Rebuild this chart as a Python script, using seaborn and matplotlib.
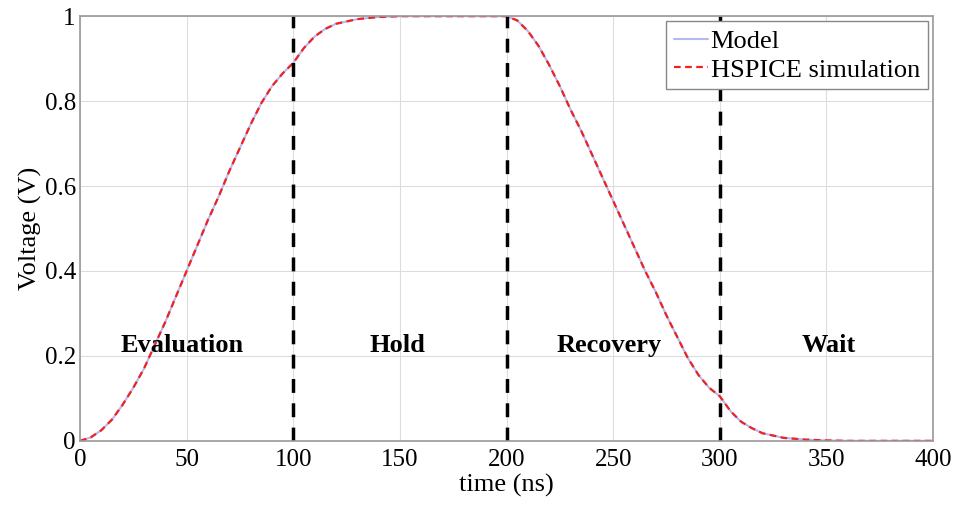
import pandas as pd
import seaborn as sns
import matplotlib.pyplot as plt

# time points (ns) and voltage (V)
time_ns = [0, 5, 10, 15, 20, 25, 30, 35, 40, 45, 50, 55, 60, 65, 70, 75, 80, 85, 90, 95,
           100, 105, 110, 115, 120, 130, 140, 150, 175, 200,
           205, 210, 215, 220, 225, 230, 235, 240, 245, 250, 255, 260, 265, 270, 275,
           280, 285, 290, 295, 300, 305, 310, 315, 320, 330, 340, 350, 360, 400]
model_v = [0, 0.008, 0.025, 0.05, 0.085, 0.125, 0.17, 0.225, 0.28, 0.34, 0.4, 0.46, 0.52,
           0.575, 0.635, 0.69, 0.745, 0.795, 0.835, 0.865,
           0.89, 0.925, 0.952, 0.97, 0.982, 0.993, 0.998, 1.0, 1.0, 1.0,
           0.99, 0.965, 0.93, 0.885, 0.835, 0.78, 0.73, 0.675, 0.62, 0.565, 0.51, 0.455,
           0.4, 0.35, 0.295, 0.245, 0.195, 0.155, 0.125, 0.105, 0.07, 0.045, 0.03, 0.018,
           0.007, 0.003, 0.001, 0.0, 0.0]
hspice_v = list(model_v)

phase_bounds = [100, 200, 300]
phase_names = ["Evaluation", "Hold", "Recovery", "Wait"]
phase_x = [48, 149, 248, 351]
phase_y = 0.225

df = pd.DataFrame({"time": time_ns, "Model": model_v, "HSPICE simulation": hspice_v})

sns.set_style("whitegrid")
plt.rcParams['font.family'] = ['Liberation Serif', 'DejaVu Serif']
# plain black text like the original figure
plt.rcParams['text.color'] = 'black'
plt.rcParams['axes.labelcolor'] = 'black'
plt.rcParams['xtick.labelcolor'] = 'black'
plt.rcParams['ytick.labelcolor'] = 'black'

fig, ax = plt.subplots(figsize=(9.6, 5.05), dpi=100)
fig.subplots_adjust(left=0.0833, right=0.972, top=0.968, bottom=0.127)

sns.lineplot(data=df, x="time", y="Model", ax=ax, color="#b8b8f0", lw=1.5, label="Model")
sns.lineplot(data=df, x="time", y="HSPICE simulation", ax=ax, color="#ee2222", lw=1.6,
             linestyle=(0, (3, 2)), label="HSPICE simulation")

for b in phase_bounds:
    ax.axvline(b, color="black", lw=2.5, linestyle=(0, (4, 3)))

for name, x in zip(phase_names, phase_x):
    ax.text(x, phase_y, name, ha="center", va="center", fontsize=19, fontweight="bold")

ax.set_xlim(0, 400)
ax.set_ylim(0, 1)
ax.set_xticks(range(0, 401, 50))
ax.set_yticks([0, 0.2, 0.4, 0.6, 0.8, 1])
ax.set_yticklabels(["0", "0.2", "0.4", "0.6", "0.8", "1"])
ax.set_xlabel("time (ns)", fontsize=19, labelpad=2)
ax.set_ylabel("Voltage (V)", fontsize=19, labelpad=2)
ax.tick_params(labelsize=18, direction="in", length=4, color="#999999")
ax.tick_params(axis="x", pad=6)
ax.tick_params(axis="y", pad=3)
ax.grid(color="#dddddd", lw=0.8)
for s in ax.spines.values():
    s.set_color("#999999")
    s.set_linewidth(1.2)

leg = ax.legend(loc="upper right", fontsize=19, handlelength=1.3, handletextpad=0.1,
                borderpad=0.3, labelspacing=0.2, fancybox=False, framealpha=1,
                edgecolor="#888888", borderaxespad=0.2)

fig.savefig("out.png", dpi=100)
